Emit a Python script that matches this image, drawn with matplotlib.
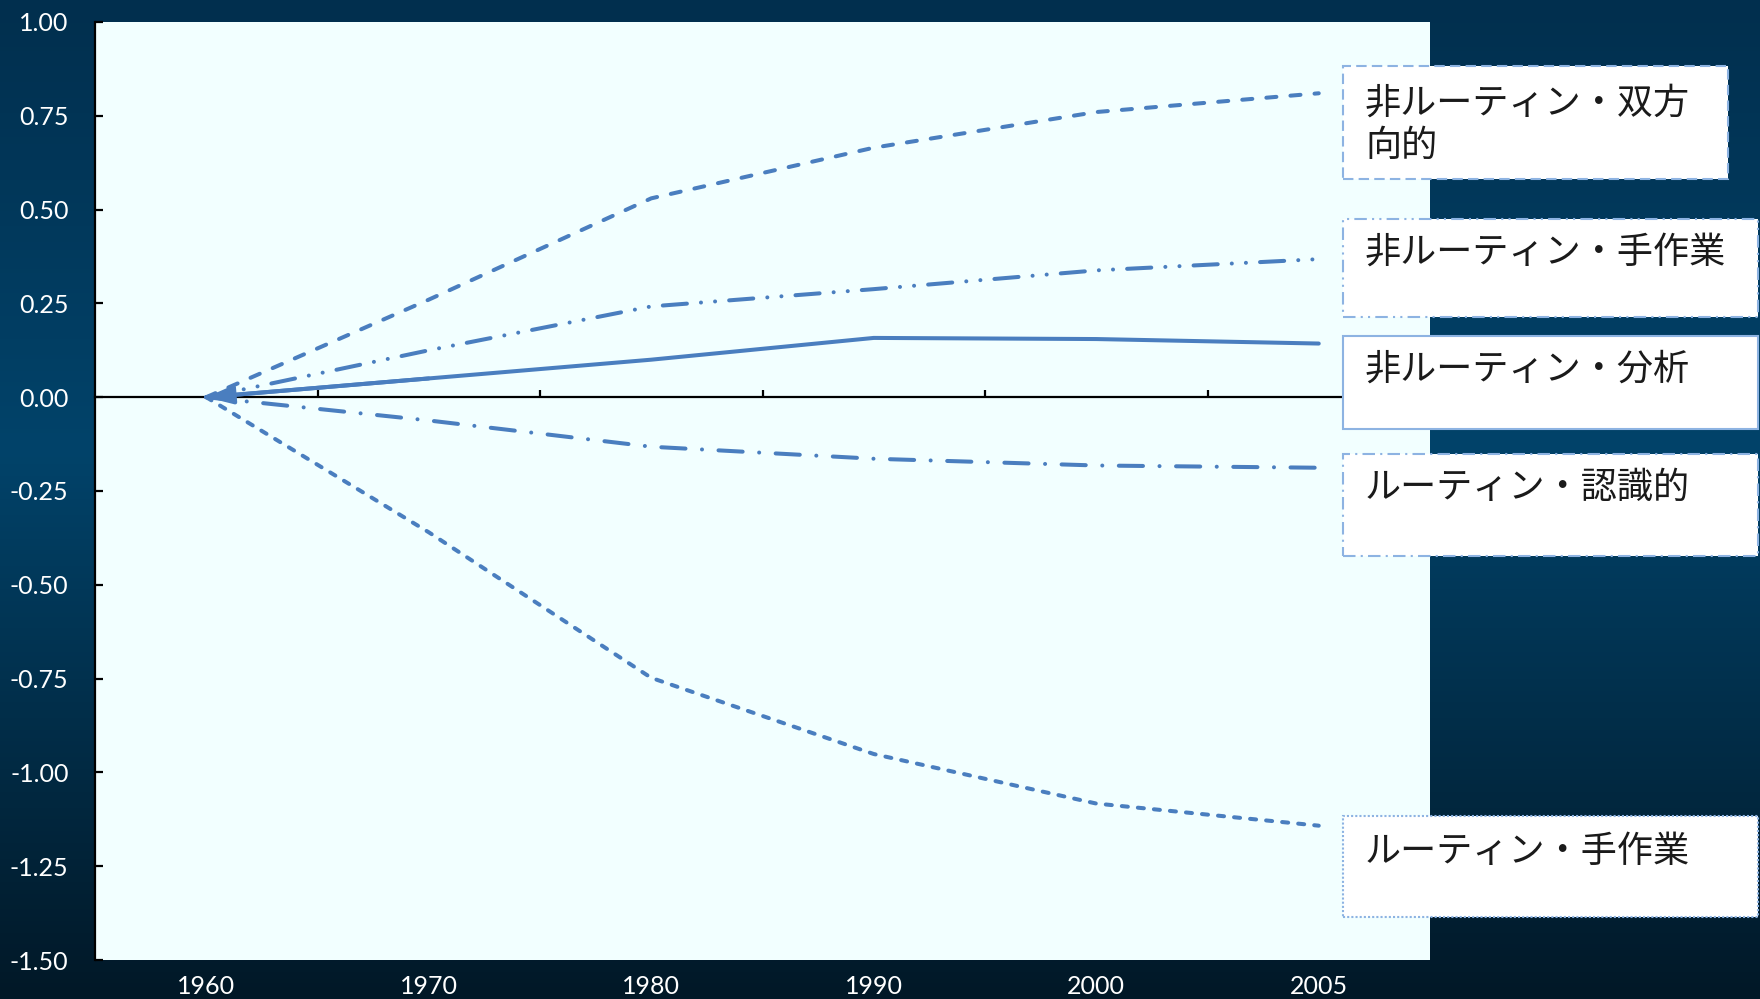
import matplotlib
matplotlib.use("Agg")
import matplotlib.pyplot as plt
import numpy as np
from matplotlib.colors import LinearSegmentedColormap
from matplotlib.patches import Rectangle

plt.rcParams['font.family'] = ['Lato', 'Noto Sans CJK JP', 'DejaVu Sans']

# data
years = ["1960", "1970", "1980", "1990", "2000", "2005"]
nr_interactive = [0.00, 0.26, 0.53, 0.665, 0.76, 0.81]
nr_manual = [0.00, 0.125, 0.242, 0.288, 0.338, 0.368]
nr_analytic = [0.00, 0.05, 0.10, 0.158, 0.155, 0.143]
r_cognitive = [0.00, -0.062, -0.132, -0.164, -0.182, -0.188]
r_manual = [0.00, -0.36, -0.748, -0.951, -1.083, -1.142]
labels = ["非ルーティン・双方\n向的", "非ルーティン・手作業", "非ルーティン・分析",
          "ルーティン・認識的", "ルーティン・手作業"]
yticks = [-1.5, -1.25, -1.0, -0.75, -0.5, -0.25, 0.0, 0.25, 0.5, 0.75, 1.0]

W, H = 1760, 999
blue = "#4A7EBF"
box_edge = "#8DB3E2"

fig = plt.figure(figsize=(W / 100, H / 100), dpi=100)

# gradient background
bg = fig.add_axes([0, 0, 1, 1], zorder=-5)
cmap = LinearSegmentedColormap.from_list("bg", [(0, "#012F4E"), (0.45, "#01436A"), (1, "#011827")])
bg.imshow(np.linspace(0, 1, 256).reshape(-1, 1), aspect="auto", cmap=cmap, extent=[0, 1, 1, 0])
bg.axis("off")

left, right, top, bottom = 95, 1430, 22, 960
ax = fig.add_axes([left / W, 1 - bottom / H, (right - left) / W, (bottom - top) / H])
ax.set_facecolor("#F2FFFF")

x = np.arange(len(years))
styles = [
    (nr_interactive, (0, (2.5, 3.5))),
    (nr_manual, (0, (6, 3.5, 0.01, 3.5, 0.01, 3.5))),
    (nr_analytic, "-"),
    (r_cognitive, (0, (6, 4.1, 0.01, 4.1))),
    (r_manual, (0, (1.5, 2.5))),
]
for vals, ls in styles:
    ax.plot(x, vals, color=blue, lw=2.9, linestyle=ls, dash_capstyle="round",
            solid_capstyle="round", zorder=3)

ax.annotate("", xy=(x[0], nr_analytic[0]), xytext=(x[1], nr_analytic[1]),
            arrowprops=dict(arrowstyle="-|>,head_length=1.6,head_width=0.55",
                            color=blue, lw=2.9, shrinkA=0, shrinkB=0,
                            mutation_scale=10), zorder=3)

ax.set_xlim(-0.5, len(years) - 0.5)
ax.set_ylim(-1.5, 1.0)

for s in ["top", "right"]:
    ax.spines[s].set_visible(False)
ax.spines["left"].set_color("black")
ax.spines["left"].set_linewidth(1.6)
ax.spines["bottom"].set_position(("data", 0))
ax.spines["bottom"].set_linewidth(1.6)

ax.set_xticks(x[:-1] + 0.5)
ax.set_xticklabels([])
ax.tick_params(axis="x", direction="in", length=5, width=1.6, color="black")

ax.set_yticks(yticks)
ax.set_yticklabels([f"{v:.2f}" for v in yticks])
ax.tick_params(axis="y", direction="in", length=6, width=1.6, color="black",
               labelcolor="white", labelsize=18, pad=19)

sec = ax.secondary_xaxis("bottom")
sec.set_xticks(x)
sec.set_xticklabels(years)
sec.tick_params(length=0, pad=11, labelcolor="white", labelsize=18)
sec.spines["bottom"].set_visible(False)

# label boxes (pixel layout)
boxes = [
    (66, 179, 1728, (0, (5, 2.5)), 124.5),
    (219, 317, 1758, (0, (6, 2.5, 1, 2.5, 1, 2.5)), 253),
    (336, 429, 1758, "-", 370),
    (454, 556, 1758, (0, (6, 2.5, 1, 2.5)), 488),
    (816, 917, 1758, (0, (1, 1)), 852),
]
for (y0, y1, x1, ls, ty), lab in zip(boxes, labels):
    rect = Rectangle((1343 / W, 1 - y1 / H), (x1 - 1343) / W, (y1 - y0) / H,
                     transform=fig.transFigure, facecolor="white",
                     edgecolor=box_edge, lw=1.5, linestyle=ls, zorder=2)
    fig.add_artist(rect)
    fig.text(1365 / W, 1 - ty / H, lab, family=["Noto Sans CJK JP", "DejaVu Sans"],
             fontsize=26, color="#1A1A1A", va="center", ha="left",
             linespacing=1.22, zorder=3)

fig.savefig("out.png", dpi=100)
